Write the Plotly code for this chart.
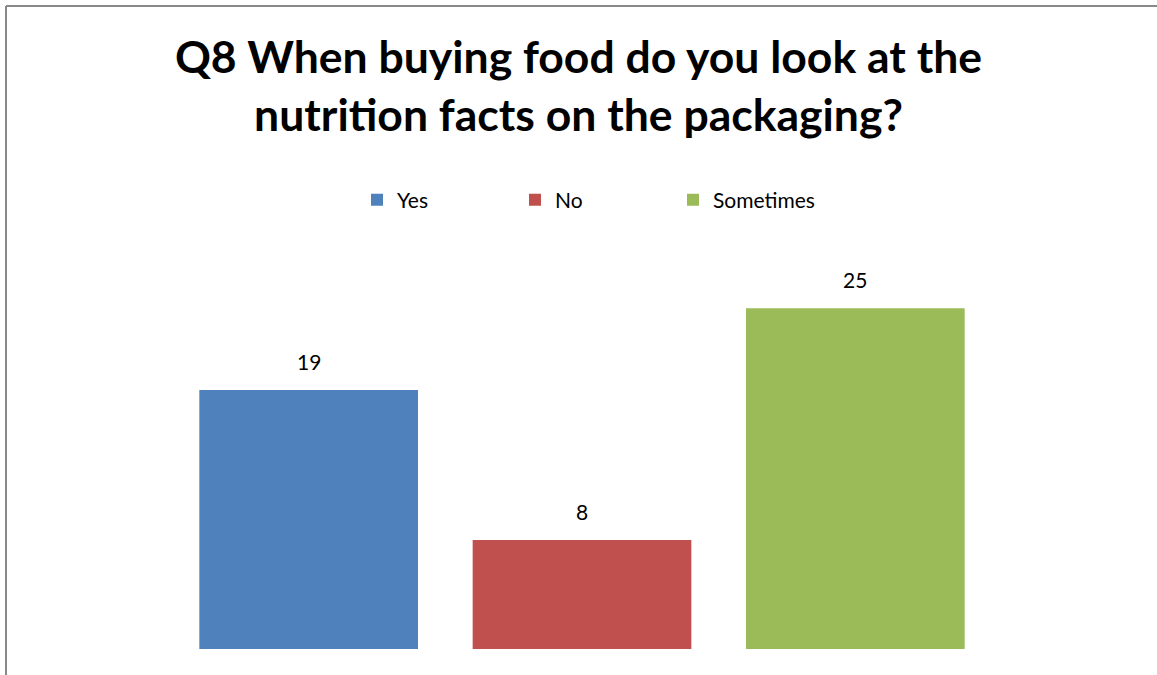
import plotly.graph_objects as go

categories = ["Yes", "No", "Sometimes"]
counts = [19, 8, 25]
colors = ["#4F81BD", "#C0504D", "#9BBB59"]

W, H = 1157, 675
ML, MR, MT, MB = 172, 165, 240, 26

fig = go.Figure()
for cat, val, col in zip(categories, counts, colors):
    fig.add_trace(go.Bar(
        x=[cat], y=[val], name=cat,
        marker=dict(color=col, line=dict(width=0)),
    ))
    # value label floating above each bar
    fig.add_annotation(
        x=cat, y=val, text=str(val), showarrow=False,
        yanchor="bottom", yshift=14,
        font=dict(family="Lato", size=21, color="#000000"),
    )

# thin grey frame along the left and top edges of the chart area
pw = W - ML - MR
ph = H - MT - MB
fx = lambda px: (px - ML) / pw
fy = lambda py: (H - MB - py) / ph
frame = dict(color="#898989", width=2)
fig.add_shape(type="line", xref="paper", yref="paper",
              x0=fx(6), x1=fx(W + 10), y0=fy(6), y1=fy(6), line=frame)
fig.add_shape(type="line", xref="paper", yref="paper",
              x0=fx(6), x1=fx(6), y0=fy(6), y1=fy(H + 10), line=frame)

fig.update_layout(
    width=W, height=H,
    margin=dict(l=ML, r=MR, t=MT, b=MB),
    paper_bgcolor="white", plot_bgcolor="white",
    barmode="overlay", bargap=0.2,
    title=dict(
        text="Q8 When buying food do you look at the<br>nutrition facts on the packaging?",
        x=0.5, xanchor="center", y=0.892, yanchor="middle",
        font=dict(family="Lato", size=44.5, color="#000000", weight="bold"),
    ),
    legend=dict(
        orientation="h", x=fx(357), xanchor="left", y=fy(200), yanchor="middle",
        font=dict(family="Lato", size=21, color="#000000"),
        entrywidth=113, itemwidth=30,
    ),
    showlegend=True,
    xaxis=dict(visible=False, range=[-0.5, 2.5]),
    yaxis=dict(visible=False, range=[0, 30]),
)

fig.write_html("out.html")
